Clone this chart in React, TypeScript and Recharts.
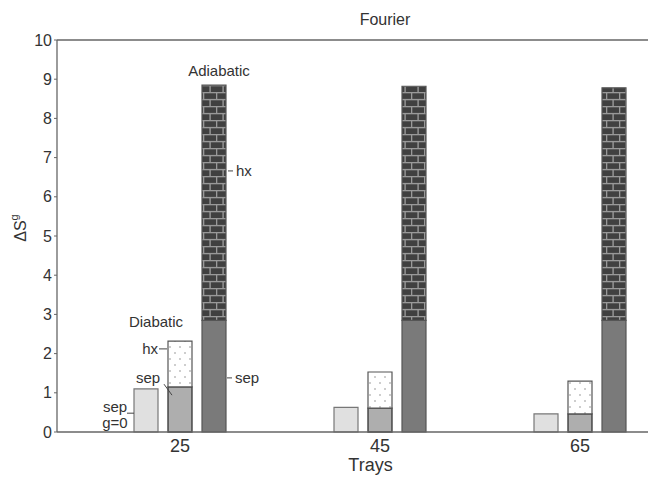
import React from 'react';
import { BarChart, Bar, XAxis, YAxis, ReferenceLine, ReferenceDot, Label } from 'recharts';

const trays = [25, 45, 65];
const diabaticSepG0 = [1.1, 0.63, 0.46];
const diabaticSep = [1.15, 0.61, 0.46];
const diabaticHx = [1.17, 0.92, 0.84];
const adiabaticSep = [2.85, 2.85, 2.85];
const adiabaticHx = [6.0, 5.97, 5.93];
const yTicks = [0, 1, 2, 3, 4, 5, 6, 7, 8, 9, 10];

const data = trays.map((t, i) => ({
  trays: t,
  g0: diabaticSepG0[i],
  dSep: diabaticSep[i],
  dHx: diabaticHx[i],
  aSep: adiabaticSep[i],
  aHx: adiabaticHx[i],
}));

const annotations = [
  { text: 'Adiabatic', x: 28.9, y: 9.21, anchor: 'middle' },
  { text: 'hx', x: 30.6, y: 6.66, anchor: 'start' },
  { text: 'sep', x: 30.5, y: 1.38, anchor: 'start' },
  { text: 'Diabatic', x: 22.6, y: 2.81, anchor: 'middle' },
  { text: 'hx', x: 22.8, y: 2.12, anchor: 'end' },
  { text: 'sep', x: 21.8, y: 1.38, anchor: 'middle' },
  { text: 'sep', x: 18.5, y: 0.64, anchor: 'middle' },
  { text: 'g=0', x: 18.5, y: 0.23, anchor: 'middle' },
];

const connectors = [
  [{ x: 29.8, y: 6.66 }, { x: 30.3, y: 6.66 }],
  [{ x: 29.7, y: 1.38 }, { x: 30.2, y: 1.38 }],
  [{ x: 22.9, y: 2.12 }, { x: 23.7, y: 2.12 }],
  [{ x: 23.4, y: 1.22 }, { x: 24.2, y: 0.94 }],
  [{ x: 19.7, y: 0.48 }, { x: 20.4, y: 0.48 }],
];

const FONT = '"Liberation Sans", Arial, Helvetica, sans-serif';
const TEXT = '#333';

const makeLabel = (text: string, anchor: string) => (props: any) => {
  const vb = props.viewBox || {};
  return (
    <text
      x={vb.x}
      y={vb.y}
      textAnchor={anchor as any}
      dominantBaseline="central"
      fontFamily={FONT}
      fontSize={15}
      fill={TEXT}
    >
      {text}
    </text>
  );
};

const YLabel = (props: any) => {
  const vb = props.viewBox || { x: 0, y: 0, height: 0 };
  const cx = 12;
  const cy = vb.y + vb.height / 2 - 8;
  return (
    <text
      x={cx}
      y={cy}
      transform={`rotate(-90 ${cx} ${cy})`}
      textAnchor="middle"
      dominantBaseline="central"
      fontFamily={FONT}
      fontSize={16}
      fill={TEXT}
    >
      ΔS<tspan dy={-6} fontSize={11}>g</tspan>
    </text>
  );
};

const XLabel = (props: any) => {
  const vb = props.viewBox || { x: 0, y: 0, width: 0, height: 0 };
  return (
    <text
      x={vb.x + vb.width / 2 + 14}
      y={vb.y + 33}
      textAnchor="middle"
      dominantBaseline="central"
      fontFamily={FONT}
      fontSize={18}
      fill={TEXT}
    >
      Trays
    </text>
  );
};

export default function App() {
  return (
    <div style={{ position: 'relative', width: 648, height: 470 }}>
      <BarChart
        width={648}
        height={470}
        data={data}
        margin={{ top: 32, right: 0, left: 0, bottom: 0 }}
        barSize={24}
        barGap={10}
      >
        <defs>
          <pattern id="brick" width="13" height="14" patternUnits="userSpaceOnUse">
            <rect width="13" height="14" fill="#404040" />
            <line x1="0" y1="0.6" x2="13" y2="0.6" stroke="#999" strokeWidth="1.4" />
            <line x1="0" y1="7.6" x2="13" y2="7.6" stroke="#999" strokeWidth="1.4" />
            <line x1="0.6" y1="0" x2="0.6" y2="7" stroke="#999" strokeWidth="1.4" />
            <line x1="7.1" y1="7" x2="7.1" y2="14" stroke="#999" strokeWidth="1.4" />
          </pattern>
          <pattern id="dots" width="10" height="12" patternUnits="userSpaceOnUse">
            <rect width="10" height="12" fill="#ffffff" />
            <circle cx="2" cy="3" r="0.7" fill="#777" />
            <circle cx="7" cy="9" r="0.7" fill="#777" />
          </pattern>
        </defs>
        <text
          x={377}
          y={11}
          textAnchor="middle"
          dominantBaseline="central"
          fontFamily={FONT}
          fontSize={16}
          fill={TEXT}
        >
          Fourier
        </text>
        <XAxis
          dataKey="trays"
          type="number"
          domain={[12.7, 72.6]}
          ticks={trays}
          allowDataOverflow
          height={46}
          tickLine={false}
          tickSize={0}
          tickMargin={7}
          axisLine={{ stroke: '#666', strokeWidth: 1.3 }}
          tick={{ fontFamily: FONT, fontSize: 18, fill: TEXT }}
        >
          <Label content={XLabel} />
        </XAxis>
        <YAxis
          type="number"
          domain={[0, 10]}
          ticks={yTicks}
          width={49}
          tickSize={3}
          tickMargin={2}
          axisLine={{ stroke: '#666', strokeWidth: 1.3 }}
          tickLine={{ stroke: '#666' }}
          tick={{ fontFamily: FONT, fontSize: 16, fill: TEXT }}
        >
          <Label content={YLabel} />
        </YAxis>
        <ReferenceLine y={10} stroke="#666" strokeWidth={1.3} />
        <Bar dataKey="g0" stackId="g0" fill="#e0e0e0" stroke="#777" strokeWidth={1.2} isAnimationActive={false} />
        <Bar dataKey="dSep" stackId="dia" fill="#aeaeae" stroke="#333" strokeWidth={1.3} isAnimationActive={false} />
        <Bar dataKey="dHx" stackId="dia" fill="url(#dots)" stroke="#555" strokeWidth={1.2} isAnimationActive={false} />
        <Bar dataKey="aSep" stackId="adia" fill="#7a7a7a" stroke="#555" strokeWidth={1.2} isAnimationActive={false} />
        <Bar dataKey="aHx" stackId="adia" fill="url(#brick)" stroke="#555" strokeWidth={1.2} isAnimationActive={false} />
        {connectors.map((seg, i) => (
          <ReferenceLine key={`c${i}`} segment={seg} stroke="#444" strokeWidth={1} ifOverflow="visible" />
        ))}
        {annotations.map((a, i) => (
          <ReferenceDot
            key={`a${i}`}
            x={a.x}
            y={a.y}
            r={0}
            fill="none"
            stroke="none"
            ifOverflow="visible"
            label={makeLabel(a.text, a.anchor)}
          />
        ))}
      </BarChart>
    </div>
  );
}
